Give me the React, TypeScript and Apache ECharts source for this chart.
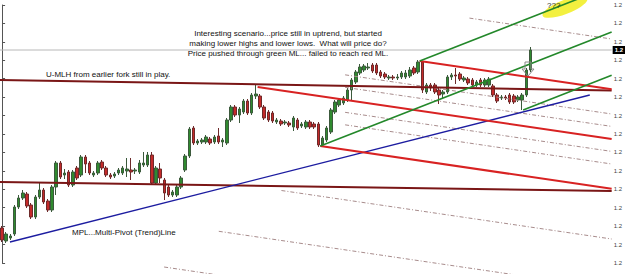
import React, { useEffect, useRef } from 'react';
import * as echarts from 'echarts';

// OHLC candles: [open, close, low, high]
const candles: number[][] = [
  [1.20175, 1.20115, 1.20105, 1.20185],
  [1.20110, 1.20145, 1.20100, 1.20155],
  [1.20125, 1.20135, 1.20115, 1.20145],
  [1.20145, 1.20280, 1.20135, 1.20290],
  [1.20280, 1.20325, 1.20270, 1.20340],
  [1.20325, 1.20350, 1.20315, 1.20365],
  [1.20345, 1.20285, 1.20275, 1.20355],
  [1.20290, 1.20230, 1.20220, 1.20300],
  [1.20230, 1.20330, 1.20220, 1.20340],
  [1.20330, 1.20365, 1.20320, 1.20405],
  [1.20365, 1.20305, 1.20295, 1.20375],
  [1.20310, 1.20265, 1.20255, 1.20320],
  [1.20265, 1.20380, 1.20255, 1.20390],
  [1.20380, 1.20500, 1.20340, 1.20510],
  [1.20500, 1.20430, 1.20420, 1.20510],
  [1.20440, 1.20450, 1.20420, 1.20470],
  [1.20455, 1.20390, 1.20380, 1.20465],
  [1.20390, 1.20455, 1.20380, 1.20465],
  [1.20475, 1.20425, 1.20415, 1.20485],
  [1.20440, 1.20530, 1.20430, 1.20540],
  [1.20530, 1.20495, 1.20450, 1.20540],
  [1.20500, 1.20450, 1.20440, 1.20510],
  [1.20440, 1.20450, 1.20430, 1.20460],
  [1.20450, 1.20500, 1.20440, 1.20510],
  [1.20505, 1.20475, 1.20465, 1.20515],
  [1.20475, 1.20440, 1.20430, 1.20485],
  [1.20440, 1.20430, 1.20420, 1.20450],
  [1.20435, 1.20445, 1.20425, 1.20455],
  [1.20450, 1.20465, 1.20440, 1.20475],
  [1.20450, 1.20475, 1.20440, 1.20485],
  [1.20460, 1.20470, 1.20430, 1.20525],
  [1.20465, 1.20455, 1.20415, 1.20525],
  [1.20460, 1.20465, 1.20445, 1.20475],
  [1.20455, 1.20500, 1.20445, 1.20515],
  [1.20490, 1.20500, 1.20480, 1.20555],
  [1.20490, 1.20540, 1.20480, 1.20555],
  [1.20540, 1.20400, 1.20390, 1.20555],
  [1.20400, 1.20475, 1.20390, 1.20485],
  [1.20470, 1.20425, 1.20400, 1.20500],
  [1.20415, 1.20350, 1.20315, 1.20425],
  [1.20380, 1.20340, 1.20330, 1.20390],
  [1.20340, 1.20355, 1.20330, 1.20365],
  [1.20340, 1.20380, 1.20330, 1.20390],
  [1.20380, 1.20425, 1.20370, 1.20435],
  [1.20465, 1.20535, 1.20455, 1.20545],
  [1.20535, 1.20670, 1.20525, 1.20680],
  [1.20675, 1.20600, 1.20590, 1.20685],
  [1.20600, 1.20610, 1.20590, 1.20620],
  [1.20605, 1.20615, 1.20595, 1.20625],
  [1.20605, 1.20630, 1.20595, 1.20640],
  [1.20620, 1.20600, 1.20590, 1.20630],
  [1.20605, 1.20630, 1.20595, 1.20640],
  [1.20635, 1.20605, 1.20595, 1.20675],
  [1.20605, 1.20615, 1.20580, 1.20625],
  [1.20600, 1.20715, 1.20590, 1.20725],
  [1.20715, 1.20780, 1.20705, 1.20790],
  [1.20780, 1.20740, 1.20730, 1.20790],
  [1.20740, 1.20770, 1.20700, 1.20780],
  [1.20755, 1.20810, 1.20745, 1.20820],
  [1.20810, 1.20750, 1.20740, 1.20820],
  [1.20750, 1.20840, 1.20740, 1.20850],
  [1.20835, 1.20845, 1.20820, 1.20890],
  [1.20835, 1.20780, 1.20770, 1.20845],
  [1.20780, 1.20725, 1.20715, 1.20790],
  [1.20755, 1.20715, 1.20705, 1.20765],
  [1.20750, 1.20710, 1.20700, 1.20760],
  [1.20705, 1.20715, 1.20695, 1.20725],
  [1.20710, 1.20695, 1.20685, 1.20720],
  [1.20700, 1.20705, 1.20690, 1.20715],
  [1.20700, 1.20690, 1.20680, 1.20710],
  [1.20680, 1.20725, 1.20660, 1.20735],
  [1.20715, 1.20675, 1.20665, 1.20725],
  [1.20685, 1.20695, 1.20675, 1.20705],
  [1.20680, 1.20705, 1.20670, 1.20715],
  [1.20705, 1.20680, 1.20670, 1.20715],
  [1.20695, 1.20680, 1.20670, 1.20705],
  [1.20695, 1.20590, 1.20580, 1.20705],
  [1.20590, 1.20625, 1.20580, 1.20635],
  [1.20615, 1.20675, 1.20605, 1.20685],
  [1.20655, 1.20765, 1.20645, 1.20775],
  [1.20755, 1.20805, 1.20745, 1.20815],
  [1.20790, 1.20815, 1.20780, 1.20825],
  [1.20800, 1.20825, 1.20790, 1.20835],
  [1.20815, 1.20865, 1.20805, 1.20875],
  [1.20865, 1.20915, 1.20815, 1.20925],
  [1.20905, 1.20955, 1.20895, 1.20965],
  [1.20950, 1.20980, 1.20940, 1.20995],
  [1.20965, 1.20985, 1.20955, 1.20995],
  [1.20975, 1.20980, 1.20965, 1.21000],
  [1.20990, 1.20960, 1.20950, 1.21000],
  [1.20990, 1.20950, 1.20940, 1.21000],
  [1.20955, 1.20935, 1.20925, 1.20965],
  [1.20945, 1.20930, 1.20920, 1.20955],
  [1.20925, 1.20930, 1.20915, 1.20940],
  [1.20930, 1.20925, 1.20915, 1.20940],
  [1.20925, 1.20930, 1.20915, 1.20945],
  [1.20930, 1.20950, 1.20920, 1.20960],
  [1.20930, 1.20950, 1.20920, 1.20965],
  [1.20935, 1.20965, 1.20925, 1.20980],
  [1.20975, 1.20950, 1.20940, 1.20985],
  [1.20955, 1.21005, 1.20945, 1.21015],
  [1.21005, 1.20865, 1.20850, 1.21010],
  [1.20855, 1.20890, 1.20845, 1.20900],
  [1.20890, 1.20875, 1.20860, 1.20900],
  [1.20890, 1.20855, 1.20845, 1.20900],
  [1.20865, 1.20840, 1.20795, 1.20875],
  [1.20845, 1.20855, 1.20825, 1.20865],
  [1.20855, 1.20930, 1.20845, 1.20940],
  [1.20930, 1.20940, 1.20915, 1.20950],
  [1.20940, 1.20935, 1.20895, 1.20975],
  [1.20945, 1.20920, 1.20910, 1.20955],
  [1.20915, 1.20925, 1.20905, 1.20935],
  [1.20920, 1.20900, 1.20890, 1.20930],
  [1.20915, 1.20890, 1.20880, 1.20925],
  [1.20890, 1.20905, 1.20880, 1.20915],
  [1.20915, 1.20890, 1.20880, 1.20925],
  [1.20890, 1.20915, 1.20880, 1.20925],
  [1.20890, 1.20920, 1.20880, 1.20930],
  [1.20885, 1.20840, 1.20830, 1.20895],
  [1.20840, 1.20810, 1.20800, 1.20850],
  [1.20825, 1.20830, 1.20815, 1.20840],
  [1.20830, 1.20825, 1.20815, 1.20840],
  [1.20840, 1.20805, 1.20795, 1.20850],
  [1.20835, 1.20805, 1.20795, 1.20845],
  [1.20815, 1.20830, 1.20805, 1.20840],
  [1.20815, 1.20840, 1.20765, 1.20850],
  [1.20840, 1.20965, 1.20830, 1.20975],
  [1.20965, 1.21065, 1.20955, 1.21080],
];

const SLOTS = 147; // bar slots across the plot (empty ones on the right)
const categories: string[] = Array.from({ length: SLOTS }, (_, i) => String(i + 1));
const lastClose = 1.21065;
const tickLabel = '1.2';

// Trend / pitchfork lines: [barIndex, price] end points
const lastPriceLine = [[-0.5, lastClose], [146.5, lastClose]];
const umlhUpper = [[-0.5, 1.20915], [146.5, 1.20863]];
const umlhLower = [[-0.5, 1.20405], [146.5, 1.2036]];
const mplLine = [[1.89, 1.20105], [141.24, 1.2084]];
const redMedian = [[61.41, 1.2088], [146.5, 1.2062]];
const redUpperTine = [[100.37, 1.2101], [146.5, 1.20869]];
const redLowerTine = [[76.47, 1.20585], [146.5, 1.20371]];
const warnLines = [
  [[82.44, 1.209408], [146.5, 1.20745]],
  [[82.44, 1.208783], [146.5, 1.20683]],
  [[82.44, 1.207533], [146.5, 1.20558]],
  [[82.44, 1.206908], [146.5, 1.20495]],
  [[112.32, 1.212245], [146.5, 1.2112]],
  [[67.14, 1.203625], [146.5, 1.2012]],
  [[52.08, 1.201585], [146.5, 1.1987]],
  [[38.94, 1.1998], [146.5, 1.1965]],
];
const greenMedian = [[76.47, 1.20585], [146.5, 1.21155]];
const greenUpper = [[100.37, 1.2101], [140.52, 1.213375]];
const greenLower = [[125.23, 1.20765], [146.5, 1.209385]];

const FONT = '"Liberation Sans", Arial, sans-serif';

export default function App() {
  const ref = useRef<HTMLDivElement>(null);
  useEffect(() => {
    if (!ref.current) return;
    const chart = echarts.init(ref.current, undefined, { renderer: 'svg' });
    const lineSeries = (data: number[][], color: string, width: number, type: any = 'solid', z = 5) => ({
      type: 'line',
      xAxisIndex: 1,
      yAxisIndex: 0,
      data,
      symbol: 'none',
      clip: false,
      silent: true,
      z,
      lineStyle: { color, width, type },
    });
    chart.setOption({
      animation: false,
      backgroundColor: '#ffffff',
      grid: { left: 0, right: 10, top: 5, bottom: 11, containLabel: false },
      xAxis: [
        { type: 'category', data: categories, boundaryGap: true, show: false },
        { type: 'value', min: -0.5, max: SLOTS - 0.5, show: false },
      ],
      yAxis: {
        type: 'value',
        position: 'right',
        min: 1.2,
        max: 1.2129,
        interval: 0.0129 / 14,
        axisLine: { show: true, lineStyle: { color: '#555', width: 1 } },
        axisTick: { show: true, length: 3, lineStyle: { color: '#555' } },
        axisLabel: { formatter: () => tickLabel, fontSize: 6, color: '#444', margin: 2, fontFamily: FONT },
        splitLine: { show: false },
      },
      series: [
        {
          ...lineSeries(lastPriceLine, '#b8b8b8', 1, 'solid', 1),
          endLabel: {
            show: true,
            formatter: tickLabel,
            backgroundColor: '#000',
            color: '#fff',
            fontSize: 6,
            fontWeight: 'bold',
            padding: [1, 2],
            distance: 1,
            fontFamily: FONT,
          },
        },
        {
          type: 'candlestick',
          data: candles,
          barWidth: 3,
          z: 3,
          itemStyle: {
            color: '#2f8a2f',
            color0: '#c42a2a',
            borderColor: '#3c5a3c',
            borderColor0: '#6e2a2a',
            borderWidth: 1,
          },
        },
        ...warnLines.map((d) => lineSeries(d, '#a88c8c', 1, [4, 2, 1, 2], 4)),
        lineSeries(umlhUpper, '#7a1616', 2),
        lineSeries(umlhLower, '#7a1616', 2),
        lineSeries(mplLine, '#1c1ca0', 1.3),
        lineSeries(redMedian, '#d82222', 2),
        lineSeries(redUpperTine, '#d82222', 2),
        lineSeries(redLowerTine, '#d82222', 2),
        lineSeries(greenMedian, '#23882a', 1.6, 'solid', 6),
        lineSeries(greenUpper, '#23882a', 1.6, 'solid', 6),
        lineSeries(greenLower, '#23882a', 1.6, 'solid', 6),
      ],
      graphic: [
        {
          type: 'ellipse',
          shape: { cx: 0, cy: 0, rx: 24, ry: 7 },
          x: 565,
          y: 7,
          rotation: 0.37,
          style: { fill: '#f2ee2a', opacity: 0.9 },
          z: 2,
        },
        {
          type: 'text',
          x: 547,
          y: 5,
          style: { text: '???', font: `8px ${FONT}`, fill: '#222', textAlign: 'left', textVerticalAlign: 'middle' },
          z: 20,
        },
        {
          type: 'text',
          x: 288,
          y: 28,
          style: {
            text: 'Interesting scenario...price still in uptrend, but started\nmaking lower highs and lower lows.  What will price do?\nPrice pushed through green ML... failed to reach red ML.',
            font: `8px ${FONT}`,
            lineHeight: 10,
            fill: '#111',
            textAlign: 'center',
          },
          z: 20,
        },
        {
          type: 'text',
          x: 46,
          y: 70,
          style: { text: 'U-MLH from earlier fork still in play.', font: `8px ${FONT}`, fill: '#111' },
          z: 20,
        },
        {
          type: 'text',
          x: 72,
          y: 228,
          style: { text: 'MPL...Multi-Pivot (Trend)Line', font: `8px ${FONT}`, fill: '#111' },
          z: 20,
        },
        {
          type: 'polygon',
          shape: { points: [[525, 62], [531, 62], [531, 69], [534, 69], [528, 76], [522, 69], [525, 69]] },
          style: { fill: 'none', stroke: '#888', lineWidth: 1 },
          z: 20,
        },
      ],
    });
    return () => chart.dispose();
  }, []);
  return <div ref={ref} style={{ position: 'fixed', left: 0, top: 0, width: 625, height: 274 }} />;
}
